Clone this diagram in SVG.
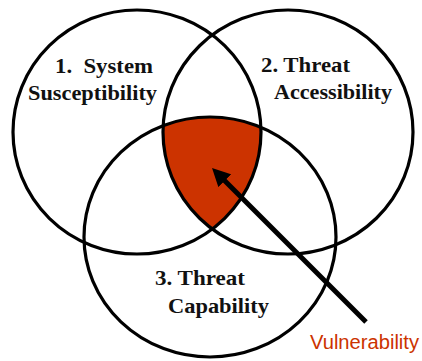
<svg xmlns="http://www.w3.org/2000/svg" width="422" height="361" viewBox="0 0 422 361">
  <style>
    .ring { fill: none; stroke: #000; stroke-width: 3.2; }
    .label { font-family: "Liberation Serif", "Times New Roman", serif; font-weight: bold; font-size: 22px; fill: #111; }
    .callout { font-family: "Liberation Sans", Arial, sans-serif; font-size: 20px; fill: #cc3300; }
    .arrow { stroke: #000; stroke-width: 5; fill: none; }
  </style>
  <defs>
    <ellipse id="e1" cx="137" cy="132" rx="124" ry="122"/>
    <ellipse id="e2" cx="288" cy="132" rx="125" ry="122"/>
    <ellipse id="e3" cx="210" cy="237" rx="126" ry="120"/>
    <clipPath id="clip1"><use href="#e1"/></clipPath>
    <clipPath id="clip2"><use href="#e2"/></clipPath>
    <marker id="head" markerUnits="userSpaceOnUse" viewBox="0 0 18 18" markerWidth="18" markerHeight="18" refX="6" refY="9" orient="auto">
      <path d="M0,0 L18,9 L0,18 z" fill="#000"/>
    </marker>
  </defs>
  <rect width="422" height="361" fill="#fff"/>

  <!-- shared area of all three sets -->
  <g id="vulnerability-region">
    <g clip-path="url(#clip1)">
      <g clip-path="url(#clip2)">
        <use href="#e3" fill="#cc3300"/>
      </g>
    </g>
  </g>

  <g id="system-susceptibility">
    <use href="#e1" class="ring"/>
    <text class="label" x="55" y="73" textLength="98" lengthAdjust="spacingAndGlyphs" xml:space="preserve">1.  System</text>
    <text class="label" x="28" y="100" textLength="129" lengthAdjust="spacingAndGlyphs">Susceptibility</text>
  </g>

  <g id="threat-accessibility">
    <use href="#e2" class="ring"/>
    <text class="label" x="261" y="72" textLength="89" lengthAdjust="spacingAndGlyphs">2. Threat</text>
    <text class="label" x="274" y="99" textLength="118" lengthAdjust="spacingAndGlyphs">Accessibility</text>
  </g>

  <g id="threat-capability">
    <use href="#e3" class="ring"/>
    <text class="label" x="155" y="285" textLength="90" lengthAdjust="spacingAndGlyphs">3. Threat</text>
    <text class="label" x="168" y="313" textLength="101" lengthAdjust="spacingAndGlyphs">Capability</text>
  </g>

  <g id="vulnerability-label">
    <text class="callout" x="310" y="349" textLength="109" lengthAdjust="spacingAndGlyphs">Vulnerability</text>
  </g>

  <g id="connectors">
    <line class="arrow" x1="366" y1="322" x2="220.5" y2="176.5" marker-end="url(#head)"/>
  </g>
</svg>
